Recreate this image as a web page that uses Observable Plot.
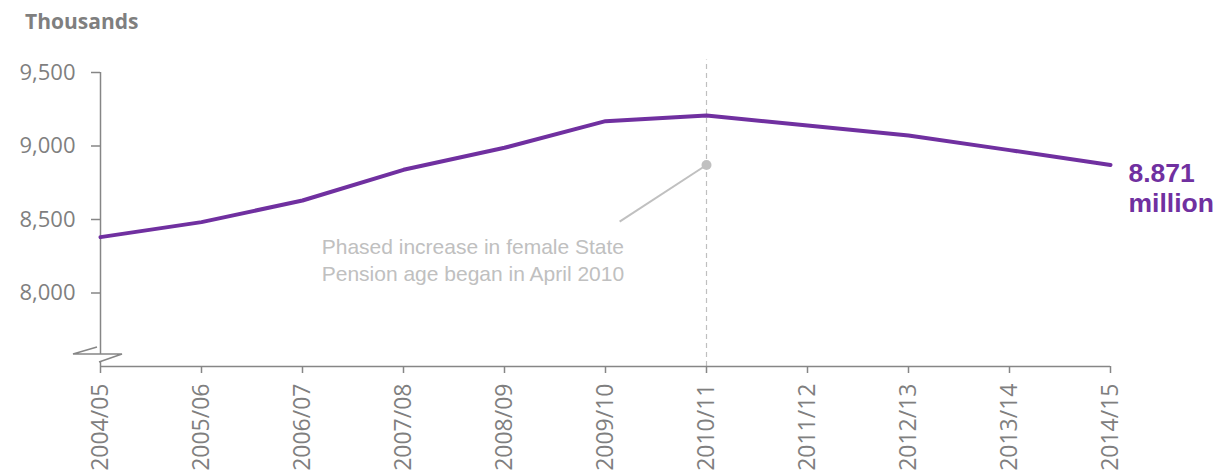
<!DOCTYPE html>
<html>
<head>
<meta charset="utf-8">
<script src="https://cdn.jsdelivr.net/npm/d3@7"></script>
<script src="https://cdn.jsdelivr.net/npm/@observablehq/plot@0.6"></script>
<style>
  html, body { margin: 0; padding: 0; background: #fff; overflow: hidden; }
  #wrap { position: relative; width: 1214px; height: 473px; }
  #unit { position: absolute; left: 25px; top: 7px; font-family: "Open Sans", sans-serif; font-weight: bold; font-size: 21px; color: #7f7f7f; }
</style>
</head>
<body>
<div id="wrap"><div id="unit">Thousands</div></div>
<script>
const years = ["2004/05","2005/06","2006/07","2007/08","2008/09","2009/10","2010/11","2011/12","2012/13","2013/14","2014/15"];
const pensioners = [8380, 8482, 8629, 8838, 8988, 9169, 9207, 9139, 9071, 8972, 8871];
const yTicks = [8000, 8500, 9000, 9500];
const markerYear = "2010/11";
const markerValue = 8871;
const noteLines = "Phased increase in female State\nPension age began in April 2010";
const endLabel = "8.871\nmillion";

const data = years.map((y, i) => ({i, year: y, value: pensioners[i]}));
const mi = years.indexOf(markerYear);
const last = data[data.length - 1];

const gray = "#7f7f7f";
const purple = "#7030a0";

const plot = Plot.plot({
  width: 1214,
  height: 473,
  marginLeft: 100,
  marginRight: 104,
  marginTop: 72,
  marginBottom: 107,
  style: {fontFamily: "'Open Sans', sans-serif", color: gray, background: "white", overflow: "visible"},
  x: {type: "linear", domain: [0, years.length - 1]},
  y: {domain: [7500, 9500]},
  marks: [
    Plot.ruleX([mi], {y1: 7500, y2: 9585, stroke: "#bfbfbf", strokeWidth: 1.2, strokeDasharray: "5,4"}),
    Plot.ruleX([0], {stroke: "#868686", strokeWidth: 1.5}),
    Plot.ruleY([7500], {stroke: "#868686", strokeWidth: 1.5}),
    Plot.axisY({ticks: yTicks, tickFormat: d3.format(","), tickSize: 9, tickPadding: 16, fontSize: 22, stroke: "#868686", strokeWidth: 1.5, fill: gray, label: null}),
    Plot.axisX({ticks: d3.range(years.length), tickFormat: i => years[i], tickRotate: -90, tickSize: 7, tickPadding: 10, fontSize: 23, stroke: "#868686", strokeWidth: 1.5, fill: gray, label: null}),
    Plot.link([{x1: mi, y1: markerValue, x2: mi - 0.86, y2: 8485}], {x1: "x1", y1: "y1", x2: "x2", y2: "y2", stroke: "#c0c0c0", strokeWidth: 2}),
    Plot.dot([{x: mi, y: markerValue}], {x: "x", y: "y", r: 5, fill: "#c0c0c0", stroke: "none"}),
    Plot.text([noteLines], {x: 2.19, y: 8390, text: d => d, textAnchor: "start", lineAnchor: "top", fontSize: 21, lineHeight: 1.25, fill: "#c0c0c0", fontFamily: "'Liberation Sans', Arial, sans-serif"}),
    Plot.line(data, {x: "i", y: "value", stroke: purple, strokeWidth: 4, strokeLinejoin: "round"}),
    Plot.text([last], {x: "i", y: "value", text: () => endLabel, dx: 18, dy: -4, textAnchor: "start", lineAnchor: "top", fontSize: 26.5, lineHeight: 1.12, fontWeight: "bold", fill: purple, fontFamily: "'Liberation Sans', Arial, sans-serif"})
  ]
});

// axis-break symbol at the foot of the y axis
const sx = plot.scale("x"), sy = plot.scale("y");
const bx = sx.apply(0), by = sy.apply(7500);
d3.select(plot).append("path")
  .attr("d", `M${bx - 3},${by - 19} L${bx - 27},${by - 12} L${bx + 22},${by - 12} L${bx - 1},${by - 4}`)
  .attr("fill", "white").attr("stroke", "#868686").attr("stroke-width", 1.5);

document.getElementById("wrap").prepend(plot);
</script>
</body>
</html>
